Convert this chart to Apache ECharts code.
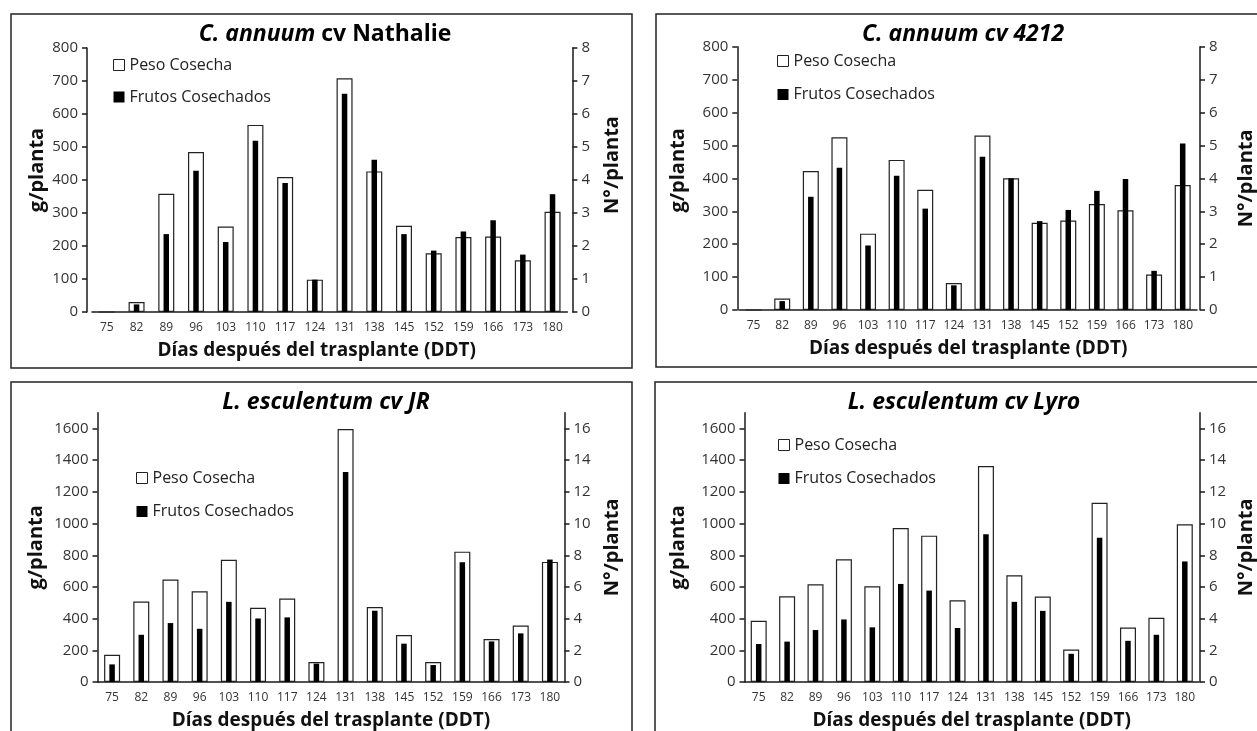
<!DOCTYPE html>
<html>
<head>
<meta charset="utf-8">
<script src="https://cdn.jsdelivr.net/npm/echarts@6/dist/echarts.min.js"></script>
<style>
html,body{margin:0;padding:0;background:#fff;}
#chart{width:1257px;height:731px;}
</style>
</head>
<body>
<div id="chart"></div>
<script>
// ---- data ----
const categories = ['75','82','89','96','103','110','117','124','131','138','145','152','159','166','173','180'];

const nathaliePeso   = [0, 30, 358, 485, 259, 567, 409, 98, 708, 426, 261, 178, 227, 229, 157, 304];
const nathalieFrutos = [0, 0.23, 2.36, 4.28, 2.12, 5.19, 3.91, 0.98, 6.61, 4.61, 2.36, 1.86, 2.44, 2.78, 1.74, 3.57];

const c4212Peso   = [0, 35, 422, 525, 232, 456, 365, 82, 530, 400, 265, 272, 322, 303, 108, 380];
const c4212Frutos = [0, 0.27, 3.44, 4.32, 1.96, 4.08, 3.08, 0.75, 4.66, 4.0, 2.7, 3.04, 3.62, 3.98, 1.19, 5.06];

const jrPeso   = [172, 508, 647, 573, 771, 468, 527, 126, 1597, 473, 296, 126, 823, 271, 357, 758];
const jrFrutos = [1.11, 2.98, 3.72, 3.36, 5.06, 4.01, 4.08, 1.16, 13.26, 4.5, 2.42, 1.07, 7.56, 2.56, 3.07, 7.73];

const lyroPeso   = [387, 541, 617, 775, 604, 972, 924, 516, 1363, 674, 540, 205, 1132, 344, 405, 996];
const lyroFrutos = [2.40, 2.55, 3.28, 3.95, 3.45, 6.19, 5.77, 3.41, 9.32, 5.06, 4.49, 1.78, 9.1, 2.6, 2.98, 7.61];

const pepperWeightTicks = [0, 100, 200, 300, 400, 500, 600, 700, 800];
const pepperCountTicks  = [0, 1, 2, 3, 4, 5, 6, 7, 8];
const tomatoWeightTicks = [0, 200, 400, 600, 800, 1000, 1200, 1400, 1600];
const tomatoCountTicks  = [0, 2, 4, 6, 8, 10, 12, 14, 16];

const seriesNames = ['Peso Cosecha', 'Frutos Cosechados'];
const xName = 'Días después del trasplante (DDT)';
const yLeftName = 'g/planta';
const yRightName = 'N°/planta';

// ---- layout ----
const FONT = '"Open Sans", "Noto Sans", sans-serif';
const panels = [
  { peso: nathaliePeso, frutos: nathalieFrutos, wTicks: pepperWeightTicks, cTicks: pepperCountTicks, wMax: 800, cMax: 8,
    grid: {left: 92, top: 48, width: 475.4, height: 264}, offL: 5, offR: 5, gapL: 40, gapR: 30,
    padX: [0, 26, 0, 0], padL: [0, 0, 0, 20], padR: [0, 0, 0, 30],
    legend: {left: 113, top: 57}, legendGap: 16, title: {x: 325, y: 34, text: '{i|C. annuum }{b|cv Nathalie}'},
    box: {x: 11, y: 14, width: 621, height: 354} },
  { peso: c4212Peso, frutos: c4212Frutos, wTicks: pepperWeightTicks, cTicks: pepperCountTicks, wMax: 800, cMax: 8,
    grid: {left: 739.3, top: 46.7, width: 460.6, height: 263.3}, offL: 2, offR: 3, gapL: 49, gapR: 36,
    padX: 0, padL: [0, 0, 0, 16], padR: 0,
    legend: {left: 777, top: 53}, legendGap: 17.5, title: {x: 963, y: 34, text: '{i|C. annuum cv 4212}'},
    box: {x: 656, y: 14, width: 640, height: 353} },
  { peso: jrPeso, frutos: jrFrutos, wTicks: tomatoWeightTicks, cTicks: tomatoCountTicks, wMax: 1700, cMax: 17,
    grid: {left: 97.5, top: 412.7, width: 467, height: 269.6}, offL: 0, offR: 0, gapL: 51, gapR: 38,
    padX: 0, padL: 0, padR: 0,
    legend: {left: 136, top: 470}, legendGap: 17.5, title: {x: 326, y: 402, text: '{i|L. esculentum cv JR}'},
    box: {x: 11, y: 382, width: 621, height: 380} },
  { peso: lyroPeso, frutos: lyroFrutos, wTicks: tomatoWeightTicks, cTicks: tomatoCountTicks, wMax: 1700, cMax: 17,
    grid: {left: 744.5, top: 412.7, width: 457.3, height: 269.6}, offL: 0, offR: 1, gapL: 56, gapR: 36,
    padX: 0, padL: 0, padR: 0,
    legend: {left: 778, top: 437}, legendGap: 17.5, title: {x: 964, y: 402, text: '{i|L. esculentum cv Lyro}'},
    box: {x: 655, y: 382, width: 640, height: 380} }
];

const grids = [], xAxes = [], yAxes = [], series = [], legends = [], graphics = [];
const axisLineStyle = {color: '#1a1a1a', width: 1.5};
const plain = v => String(v);

panels.forEach((p, i) => {
  grids.push(Object.assign({containLabel: false}, p.grid));
  // visible category axis
  xAxes.push({
    type: 'category', gridIndex: i, data: categories,
    axisLine: {show: true, lineStyle: axisLineStyle},
    axisTick: {show: false},
    axisLabel: {fontSize: 12, color: '#333', margin: 10, fontFamily: FONT, interval: 0},
    name: xName, nameLocation: 'middle', nameGap: 29,
    nameTextStyle: {fontSize: 19, fontWeight: 'bold', color: '#111', fontFamily: FONT, padding: p.padX}
  });
  // hidden category axis for the black bars (so they are centred independently)
  xAxes.push({type: 'category', gridIndex: i, data: categories, show: false});

  yAxes.push({
    type: 'value', gridIndex: i, position: 'left', min: 0, max: p.wMax, offset: p.offL,
    axisLine: {show: true, lineStyle: axisLineStyle},
    axisTick: {show: true, length: 5, lineStyle: axisLineStyle, customValues: p.wTicks},
    axisLabel: {fontSize: 15, color: '#333', margin: 9, fontFamily: FONT, customValues: p.wTicks, formatter: plain},
    splitLine: {show: false},
    name: yLeftName, nameLocation: 'middle', nameGap: p.gapL, nameRotate: 90,
    nameTextStyle: {fontSize: 20, fontWeight: 'bold', color: '#111', fontFamily: FONT, padding: p.padL}
  });
  yAxes.push({
    type: 'value', gridIndex: i, position: 'right', min: 0, max: p.cMax, offset: p.offR,
    axisLine: {show: true, lineStyle: axisLineStyle},
    axisTick: {show: true, length: 5, lineStyle: axisLineStyle, customValues: p.cTicks},
    axisLabel: {fontSize: 15, color: '#333', margin: 9, fontFamily: FONT, customValues: p.cTicks, formatter: plain},
    splitLine: {show: false},
    name: yRightName, nameLocation: 'middle', nameGap: p.gapR, nameRotate: 90,
    nameTextStyle: {fontSize: 20, fontWeight: 'bold', color: '#111', fontFamily: FONT, padding: p.padR}
  });

  series.push({
    name: seriesNames[0], type: 'bar', xAxisIndex: 2 * i, yAxisIndex: 2 * i,
    data: p.peso, barWidth: 16, z: 2, silent: true,
    itemStyle: {color: '#fff', borderColor: '#222', borderWidth: 1.2}
  });
  series.push({
    name: seriesNames[1], type: 'bar', xAxisIndex: 2 * i + 1, yAxisIndex: 2 * i + 1,
    data: p.frutos, barWidth: 5.5, z: 3, silent: true,
    itemStyle: {color: '#000'}
  });

  legends.push({
    left: p.legend.left, top: p.legend.top, orient: 'vertical', itemGap: p.legendGap, padding: 0,
    itemWidth: 11, itemHeight: 11, icon: 'rect', selectedMode: false,
    textStyle: {fontSize: 16, color: '#222', fontFamily: FONT},
    data: [
      {name: seriesNames[0], itemStyle: {color: '#fff', borderColor: '#222', borderWidth: 1}},
      {name: seriesNames[1], itemStyle: {color: '#000', borderWidth: 0}}
    ]
  });

  graphics.push({
    type: 'rect', silent: true, z: 0,
    shape: p.box, style: {fill: 'transparent', stroke: '#222', lineWidth: 1.5}
  });
  graphics.push({
    type: 'text', silent: true, x: p.title.x, y: p.title.y,
    style: {
      text: p.title.text, align: 'center', verticalAlign: 'middle', fill: '#000',
      font: 'bold 23px ' + FONT,
      rich: {
        i: {fontSize: 23, fontWeight: 'bold', fontStyle: 'italic', fontFamily: FONT, fill: '#000'},
        b: {fontSize: 23, fontWeight: 'bold', fontFamily: FONT, fill: '#000'}
      }
    }
  });
});

const chart = echarts.init(document.getElementById('chart'), null, {renderer: 'canvas'});
chart.setOption({
  animation: false,
  backgroundColor: '#fff',
  grid: grids,
  xAxis: xAxes,
  yAxis: yAxes,
  legend: legends,
  series: series,
  graphic: graphics
});
</script>
</body>
</html>
